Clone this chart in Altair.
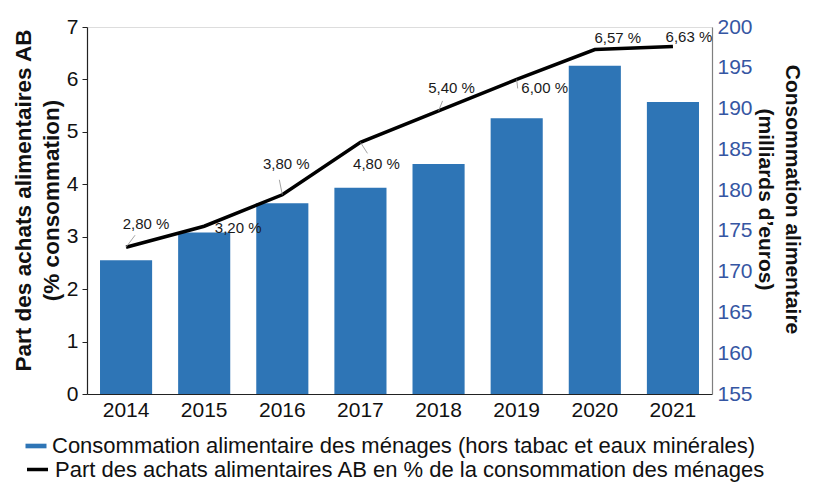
import altair as alt
import pandas as pd

# ---- data ----
annees = ["2014", "2015", "2016", "2017", "2018", "2019", "2020", "2021"]
consommation = [171.4, 174.8, 178.4, 180.3, 183.2, 188.8, 195.25, 190.8]
part_ab = [2.80, 3.20, 3.80, 4.80, 5.40, 6.00, 6.57, 6.63]
etiquettes = ["2,80 %", "3,20 %", "3,80 %", "4,80 %", "5,40 %", "6,00 %", "6,57 %", "6,63 %"]

serie_barres = "Consommation alimentaire des ménages (hors tabac et eaux minérales)"
serie_ligne = "Part des achats alimentaires AB en % de la consommation des ménages"

# label placement (pixel offsets, style only)
label_dx = [20, 34, 4, 16, 13, 28, 23, 16]
label_dy = [-23, 2, -31, 22, -23, 9, -12, -9]
leader_dx = [9, None, -3, 7, 4, 1, None, None]
leader_dy = [-12, None, -15, 11, -10, 9, None, None]

df = pd.DataFrame({"annee": annees, "conso": consommation, "part": part_ab, "label": etiquettes})

FONT = "Liberation Sans"
BLUE = "#2E75B6"

x_enc = alt.X(
    "annee:N",
    sort=annees,
    scale=alt.Scale(paddingInner=0.333, paddingOuter=0.1665),
    axis=alt.Axis(title=None, labelAngle=0, labelFontSize=21, labelColor="#111111",
                  labelFont=FONT, domainColor="#222222", domainWidth=1.2, ticks=False,
                  labelPadding=5),
)

y_right = alt.Y(
    "conso:Q",
    scale=alt.Scale(domain=[155, 200], zero=False, nice=False),
    axis=alt.Axis(orient="right", values=list(range(155, 201, 5)), grid=False,
                  labelFontSize=21, labelColor="#3556A3", labelFont=FONT,
                  domainColor="#7f7f7f", domainWidth=1.2, ticks=False, labelPadding=5,
                  title=["Consommation alimentaire", "(milliards d\u2019euros)"],
                  titleFontSize=21, titleFontWeight="bold", titleColor="#111111",
                  titleFont=FONT, titlePadding=2, titleLineHeight=27, titleY=172),
)

y_left = alt.Y(
    "part:Q",
    scale=alt.Scale(domain=[0, 7], nice=False),
    axis=alt.Axis(orient="left", values=list(range(0, 8)), grid=False,
                  labelFontSize=21, labelColor="#111111", labelFont=FONT,
                  domainColor="#222222", domainWidth=1.2, tickColor="#222222",
                  tickSize=5, labelPadding=4,
                  title=["Part des achats alimentaires AB", "(% consommation)"],
                  titleFontSize=22.5, titleFontWeight="bold", titleColor="#111111",
                  titleFont=FONT, titlePadding=3, titleLineHeight=28, titleY=173),
)

bars = alt.Chart(df).transform_calculate(
    serie="'" + serie_barres + "'"
).mark_bar(clip=True).encode(
    x=x_enc,
    y=y_right,
    color=alt.Color(
        "serie:N",
        scale=alt.Scale(range=[BLUE]),
        legend=alt.Legend(orient="none", legendX=-62, legendY=408, title=None,
                          symbolType="M-1,-0.22H1V0.22H-1Z", symbolSize=441,
                          symbolOpacity=1, symbolStrokeWidth=0,
                          labelFontSize=22, labelFont=FONT, labelColor="#111111",
                          labelLimit=900, labelOffset=5),
    ),
)

line = alt.Chart(df).transform_calculate(
    serie="'" + serie_ligne + "'"
).mark_line(strokeWidth=3.5).encode(
    x=x_enc,
    y=y_left,
    stroke=alt.Stroke(
        "serie:N",
        scale=alt.Scale(range=["#000000"]),
        legend=alt.Legend(orient="none", legendX=-62, legendY=430, title=None,
                          symbolType="stroke", symbolSize=441, symbolStrokeWidth=3.5,
                          labelFontSize=22, labelFont=FONT, labelColor="#111111",
                          labelLimit=900, labelOffset=5),
    ),
)

inner = [line]
for i, a in enumerate(annees):
    if leader_dx[i] is not None:
        inner.append(
            alt.Chart(df).transform_filter(alt.datum.annee == a)
            .mark_rule(color="#8c8c8c", strokeWidth=0.8,
                       x2Offset=leader_dx[i], y2Offset=leader_dy[i])
            .encode(x=x_enc, y=y_left, x2="annee:N", y2="part:Q")
        )
    inner.append(
        alt.Chart(df).transform_filter(alt.datum.annee == a)
        .mark_text(dx=label_dx[i], dy=label_dy[i], fontSize=15, font=FONT,
                   color="#1a1a1a", baseline="middle", align="center")
        .encode(x=x_enc, y=y_left, text="label:N")
    )

chart = alt.layer(bars, alt.layer(*inner)).resolve_scale(
    y="independent", color="independent", stroke="independent"
).properties(
    width=625, height=367,
    autosize=alt.AutoSizeParams(type="none"),
    padding={"left": 79, "top": 19, "right": 94, "bottom": 89},
).configure_view(stroke=None).configure(font=FONT)

chart.save("out.html", embed_options={"renderer": "svg", "actions": False})
